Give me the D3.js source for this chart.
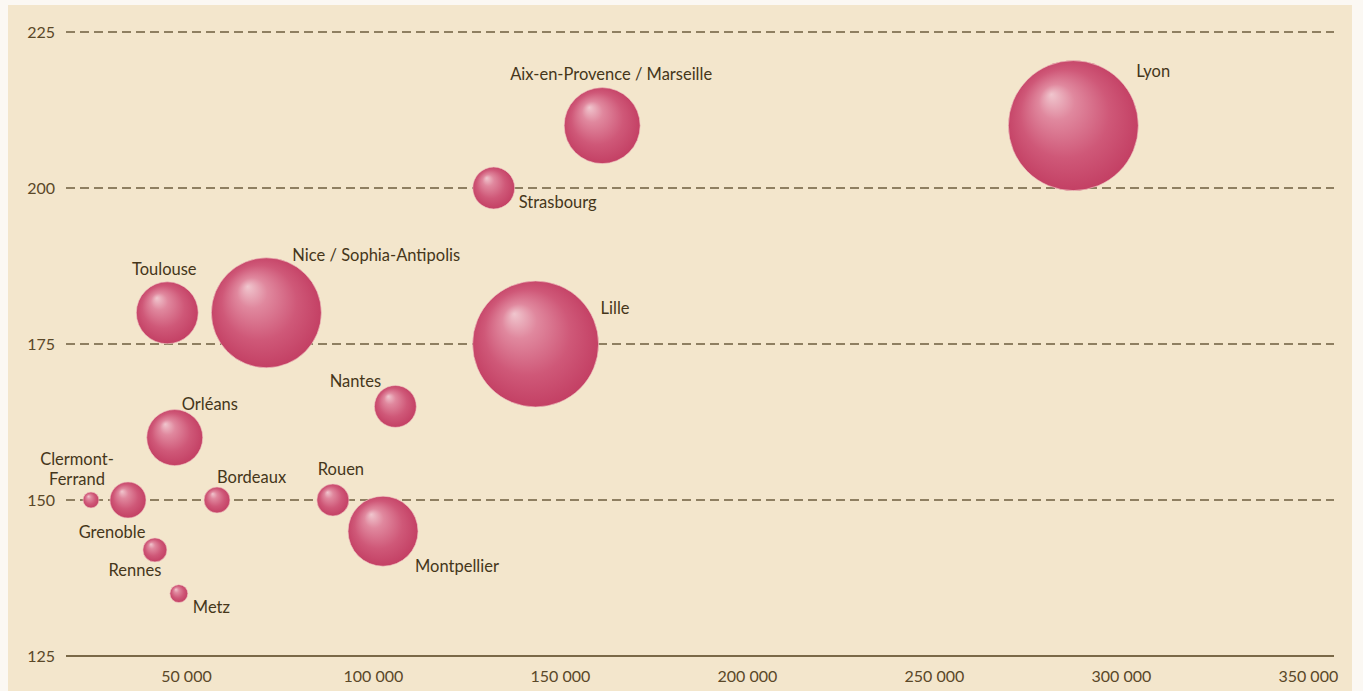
<!DOCTYPE html>
<html>
<head>
<meta charset="utf-8">
<script src="https://cdn.jsdelivr.net/npm/d3@7/dist/d3.min.js"></script>
<style>
  html, body { margin: 0; padding: 0; background: #fbf8f3; }
  svg { display: block; }
</style>
</head>
<body>
<svg id="chart" width="1363" height="691"></svg>
<script>
// Cities: surface (x), price level (y), bubble size (relative volume)
const cities = ["Lyon", "Aix-en-Provence / Marseille", "Strasbourg", "Lille",
  "Nice / Sophia-Antipolis", "Toulouse", "Nantes", "Orléans", "Clermont-\nFerrand",
  "Grenoble", "Bordeaux", "Rouen", "Montpellier", "Rennes", "Metz"];
const xValues = [287300, 161300, 132300, 143500, 71500, 45000, 106000, 47000, 24600,
  34500, 58300, 89300, 102700, 41700, 48100];
const yValues = [210, 210, 200, 175, 180, 180, 165, 160, 150, 150, 150, 150, 145, 142, 135];
const sizeValues = [1000, 342, 104, 939, 716, 227, 104, 186, 15, 77, 40, 61, 290, 34, 19];

const yTicks = [125, 150, 175, 200, 225];
const xTicks = [50000, 100000, 150000, 200000, 250000, 300000, 350000];
const xTickLabels = ["50 000", "100 000", "150 000", "200 000", "250 000", "300 000", "350 000"];

// Label placement relative to each bubble centre: [anchor, dx, dy]
const labelPlacement = {
  "Lyon": ["start", 63, -54],
  "Aix-en-Provence / Marseille": ["middle", 9, -51],
  "Strasbourg": ["start", 25, 14],
  "Lille": ["start", 65, -36],
  "Nice / Sophia-Antipolis": ["start", 26, -58],
  "Toulouse": ["middle", -3, -44],
  "Nantes": ["middle", -40, -25],
  "Orléans": ["start", 7, -33],
  "Clermont-\nFerrand": ["middle", -14, -41],
  "Grenoble": ["middle", -16, 32],
  "Bordeaux": ["start", 0, -23],
  "Rouen": ["middle", 8, -31],
  "Montpellier": ["start", 32, 35],
  "Rennes": ["middle", -20, 20],
  "Metz": ["start", 14, 14]
};

const data = cities.map((c, i) => ({ name: c, x: xValues[i], y: yValues[i], size: sizeValues[i] }));

const svg = d3.select("#chart");
const H = 691;

// Panel background
svg.append("rect").attr("x", 8).attr("y", 5).attr("width", 1344).attr("height", H - 5)
  .attr("fill", "#f3e6cc");

const x = d3.scaleLinear().domain([18000, 357000]).range([66.3, 1334]);
const y = d3.scaleLinear().domain([125, 225]).range([656, 32]);
const r = d3.scaleSqrt().domain([0, 1000]).range([0, 65]);

const labelColor = "#45361a";
const tickColor = "#5a4828";
const font = "'Lato', 'Open Sans', sans-serif";

// Gradient for the spheres
const defs = svg.append("defs");
const grad = defs.append("radialGradient").attr("id", "sphere")
  .attr("cx", "50%").attr("cy", "50%").attr("r", "55%")
  .attr("fx", "33%").attr("fy", "26%");
grad.append("stop").attr("offset", "0%").attr("stop-color", "#f0c6ce");
grad.append("stop").attr("offset", "25%").attr("stop-color", "#e0889e");
grad.append("stop").attr("offset", "62%").attr("stop-color", "#cf5878");
grad.append("stop").attr("offset", "100%").attr("stop-color", "#c13b60");

// Y tick labels
const yAxis = d3.axisLeft(y).tickValues(yTicks).tickSize(0).tickPadding(0);
const gy = svg.append("g").attr("transform", "translate(55,0)").call(yAxis);
gy.select(".domain").remove();
gy.selectAll("text").attr("fill", tickColor).attr("font-family", font)
  .attr("font-size", 16).attr("text-anchor", "end");

// Dashed gridlines and solid baseline
svg.append("g").selectAll("line").data(yTicks.filter(t => t !== 125)).join("line")
  .attr("x1", 66).attr("x2", 1334)
  .attr("y1", d => y(d)).attr("y2", d => y(d))
  .attr("stroke", "#6e5d3e").attr("stroke-width", 1.5)
  .attr("stroke-dasharray", "9,5");

svg.append("line").attr("x1", 66).attr("x2", 1334)
  .attr("y1", y(125)).attr("y2", y(125))
  .attr("stroke", "#7a6947").attr("stroke-width", 2);

// X tick labels
const xAxis = d3.axisBottom(x).tickValues(xTicks).tickSize(0).tickPadding(0)
  .tickFormat((d, i) => xTickLabels[i]);
const gx = svg.append("g").attr("transform", `translate(0,${y(125) + 13})`).call(xAxis);
gx.select(".domain").remove();
gx.selectAll("text").attr("fill", tickColor).attr("font-family", font)
  .attr("font-size", 16).attr("dy", "0.8em");

// Bubbles, biggest first so small ones stay visible
const sorted = data.slice().sort((a, b) => b.size - a.size);
svg.append("g").selectAll("circle").data(sorted).join("circle")
  .attr("cx", d => x(d.x)).attr("cy", d => y(d.y)).attr("r", d => r(d.size))
  .attr("fill", "url(#sphere)")
  .attr("stroke", "#f1c9c4").attr("stroke-width", 0.8).attr("stroke-opacity", 0.8);

// City labels
const lab = svg.append("g").selectAll("text").data(data).join("text")
  .attr("font-family", font).attr("font-size", 16.5).attr("fill", labelColor)
  .attr("text-anchor", d => labelPlacement[d.name][0])
  .attr("x", d => x(d.x) + labelPlacement[d.name][1])
  .attr("y", d => y(d.y) + labelPlacement[d.name][2]);
lab.each(function (d) {
  const t = d3.select(this);
  d.name.split("\n").forEach((ln, i) => {
    t.append("tspan").attr("x", t.attr("x")).attr("dy", i === 0 ? "0.35em" : "1.2em").text(ln);
  });
});
</script>
</body>
</html>
